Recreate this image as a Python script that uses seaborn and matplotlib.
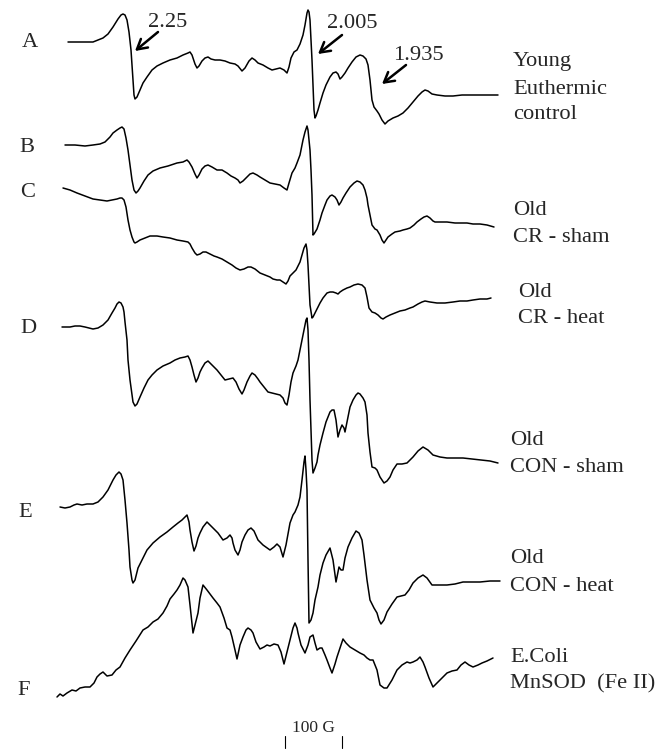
import numpy as np
import pandas as pd
import matplotlib
matplotlib.use("Agg")
import matplotlib.pyplot as plt
import seaborn as sns

# EPR spectra: x = field position, y = signal (screen units, down = larger)
A_x = [68, 80, 93, 103, 108, 113, 118, 121, 123, 125, 127, 129, 131, 133, 134, 135, 137, 140, 143, 147,
       152, 157, 163, 170, 177, 183, 188, 190, 192, 195, 197, 199, 202, 205, 208, 211, 215, 220, 225, 230,
       235, 238, 242, 245, 249, 252, 255, 258, 263, 268, 272, 276, 280, 284, 287, 289, 291, 294, 297, 300,
       303, 305, 307, 308, 309, 310, 311, 312, 313, 314, 315, 316, 318, 320, 323, 326, 330, 333, 336, 338,
       340, 342, 345, 348, 352, 356, 360, 363, 366, 368, 370, 372, 374, 377, 379, 382, 385, 388, 393, 398,
       403, 408, 413, 418, 422, 425, 428, 432, 437, 445, 453, 462, 470, 480, 490, 498]
A_y = [42, 42, 42, 38, 34, 27, 19, 15, 14, 15, 20, 32, 50, 80, 95, 99, 97, 90, 83, 77,
       70, 66, 63, 60, 58, 55, 53, 52, 55, 64, 68, 66, 61, 58, 57, 59, 60, 60, 61, 63,
       64, 66, 71, 68, 61, 58, 60, 63, 65, 68, 70, 69, 68, 70, 73, 67, 58, 52, 50, 44,
       35, 25, 13, 10, 12, 20, 40, 60, 85, 110, 118, 116, 110, 103, 93, 85, 77, 73, 72, 74,
       79, 77, 73, 68, 62, 57, 55, 56, 59, 65, 80, 100, 107, 111, 114, 120, 124, 121, 118, 116,
       113, 108, 102, 96, 92, 90, 91, 94, 95, 96, 96, 95, 95, 95, 95, 95]

B_x = [65, 75, 85, 93, 100, 105, 110, 113, 117, 120, 122, 124, 126, 128, 130, 132, 134, 136, 138, 140,
       144, 148, 153, 160, 168, 177, 183, 187, 189, 192, 195, 197, 199, 202, 205, 208, 212, 217, 222, 227,
       231, 235, 238, 240, 243, 247, 250, 253, 257, 260, 265, 270, 275, 280, 284, 287, 289, 292, 295, 297,
       300, 303, 305, 307, 308, 310, 311, 312, 313, 314, 317, 320, 322, 325, 327, 330, 332, 335, 337, 339,
       341, 343, 346, 350, 354, 357, 360, 363, 365, 367, 368, 370, 372, 375, 377, 380, 382, 384, 386, 388,
       392, 395, 400, 403, 407, 410, 414, 417, 421, 424, 427, 430, 433, 435, 440, 447, 455, 460, 467, 473,
       480, 487, 494]
B_y = [145, 145, 146, 145, 144, 142, 137, 133, 130, 128, 127, 129, 138, 150, 165, 180, 190, 193, 191, 188,
       181, 175, 171, 168, 166, 163, 162, 160, 162, 167, 174, 178, 175, 169, 166, 165, 167, 170, 170, 173,
       176, 178, 180, 183, 181, 177, 174, 173, 175, 177, 180, 183, 184, 185, 188, 190, 183, 173, 168, 163,
       155, 140, 132, 126, 130, 150, 170, 195, 235, 234, 229, 220, 213, 205, 200, 196, 195, 197, 200, 205,
       202, 198, 193, 187, 183, 181, 182, 185, 190, 198, 205, 215, 225, 229, 230, 235, 240, 243, 240, 237,
       234, 232, 231, 230, 229, 228, 225, 222, 219, 217, 216, 218, 221, 222, 222, 222, 223, 223, 223, 224,
       224, 225, 227]

C_x = [63, 70, 77, 85, 93, 100, 107, 112, 117, 120, 122, 124, 126, 128, 130, 132, 134, 135, 137, 140,
       145, 150, 157, 163, 170, 177, 183, 188, 190, 192, 195, 197, 200, 203, 206, 210, 214, 217, 222, 227,
       232, 236, 240, 244, 248, 251, 255, 260, 265, 270, 273, 277, 280, 283, 286, 288, 290, 293, 296, 300,
       302, 304, 306, 307, 308, 309, 310, 312, 313, 315, 318, 320, 323, 327, 330, 333, 336, 338, 340, 343,
       347, 350, 354, 358, 362, 365, 367, 369, 372, 375, 378, 381, 383, 386, 390, 395, 400, 405, 410, 413,
       418, 422, 425, 430, 437, 445, 453, 460, 467, 473, 480, 487, 491]
C_y = [188, 190, 193, 196, 199, 200, 201, 200, 199, 198, 198, 200, 207, 220, 230, 237, 242, 243, 242, 240,
       238, 236, 236, 237, 238, 240, 241, 242, 244, 248, 253, 255, 254, 252, 252, 254, 256, 257, 259, 262,
       265, 268, 270, 269, 267, 267, 269, 273, 275, 277, 279, 280, 280, 282, 284, 281, 276, 273, 270, 262,
       255, 248, 244, 250, 265, 285, 305, 318, 317, 313, 307, 303, 298, 293, 292, 292, 293, 294, 292, 290,
       288, 287, 285, 284, 285, 288, 297, 308, 312, 313, 315, 318, 319, 317, 315, 313, 311, 310, 308, 307,
       304, 302, 301, 302, 303, 303, 302, 301, 301, 300, 299, 299, 298]

D_x = [62, 70, 75, 80, 85, 93, 98, 103, 108, 112, 115, 117, 119, 121, 123, 124, 125, 127, 128, 130,
       132, 133, 135, 137, 140, 144, 148, 152, 157, 163, 170, 175, 180, 185, 188, 190, 192, 194, 196, 198,
       200, 202, 205, 208, 211, 214, 217, 221, 225, 229, 233, 236, 239, 242, 244, 247, 250, 252, 255, 258,
       260, 264, 268, 272, 276, 280, 283, 285, 287, 289, 291, 293, 296, 298, 300, 302, 304, 306, 307, 308,
       309, 310, 311, 312, 313, 315, 317, 318, 320, 323, 326, 330, 332, 334, 336, 338, 340, 342, 344, 345,
       347, 350, 353, 356, 358, 360, 363, 365, 367, 368, 370, 372, 375, 377, 380, 384, 387, 390, 393, 397,
       402, 407, 410, 413, 418, 423, 428, 433, 440, 447, 455, 463, 472, 480, 490, 498]
D_y = [327, 327, 326, 326, 327, 329, 328, 325, 320, 313, 308, 304, 302, 303, 307, 312, 322, 340, 360, 380,
       395, 402, 406, 404, 397, 388, 380, 375, 370, 366, 363, 360, 358, 357, 356, 360, 367, 375, 382, 378,
       372, 368, 363, 361, 364, 367, 370, 375, 380, 379, 378, 382, 389, 394, 390, 382, 376, 373, 375, 379,
       382, 387, 392, 393, 394, 395, 398, 403, 405, 395, 382, 373, 366, 360, 350, 340, 330, 320, 318, 330,
       360, 400, 430, 460, 473, 468, 462, 455, 445, 433, 422, 412, 410, 410, 420, 437, 430, 425, 428, 432,
       422, 407, 400, 395, 393, 394, 398, 402, 415, 433, 452, 467, 468, 470, 477, 483, 481, 477, 470, 464,
       464, 463, 460, 457, 451, 447, 450, 455, 457, 458, 458, 458, 459, 460, 461, 463]

E_x = [60, 65, 70, 74, 77, 82, 87, 93, 98, 103, 108, 113, 116, 119, 121, 123, 125, 127, 129, 130,
       132, 133, 135, 138, 142, 147, 153, 160, 167, 173, 178, 182, 185, 187, 189, 190, 192, 194, 196, 198,
       200, 203, 207, 210, 213, 218, 223, 227, 230, 232, 233, 235, 238, 240, 242, 245, 248, 251, 254, 258,
       263, 270, 274, 277, 280, 283, 286, 290, 293, 295, 298, 300, 302, 304, 305, 306, 307, 308, 309, 311,
       313, 315, 318, 320, 323, 326, 330, 333, 336, 338, 339, 341, 343, 345, 348, 352, 356, 359, 362, 364,
       367, 370, 374, 377, 379, 381, 384, 387, 392, 397, 401, 405, 409, 413, 418, 423, 427, 432, 440, 447,
       455, 463, 472, 480, 490, 500]
E_y = [507, 508, 507, 505, 504, 505, 504, 504, 502, 497, 490, 480, 475, 472, 474, 480, 500, 523, 550, 567,
       580, 583, 580, 568, 560, 550, 543, 537, 532, 527, 523, 520, 517, 515, 522, 530, 542, 551, 546, 538,
       533, 527, 522, 525, 528, 533, 540, 538, 535, 538, 543, 550, 555, 550, 542, 535, 530, 528, 531, 540,
       545, 550, 547, 544, 547, 557, 545, 523, 515, 512, 505, 497, 480, 462, 456, 470, 490, 560, 623, 620,
       613, 600, 587, 575, 563, 555, 548, 560, 582, 572, 567, 570, 570, 558, 547, 538, 531, 533, 540, 555,
       580, 600, 608, 613, 620, 624, 620, 612, 604, 597, 596, 595, 590, 583, 578, 575, 578, 585, 585, 585,
       584, 582, 582, 582, 581, 581]

F_x = [57, 60, 63, 67, 72, 76, 80, 85, 90, 94, 97, 100, 103, 107, 112, 116, 120, 125, 130, 136,
       143, 148, 153, 158, 163, 167, 170, 174, 177, 180, 183, 185, 188, 190, 193, 195, 198, 200, 203, 207,
       210, 213, 217, 220, 224, 227, 230, 232, 235, 237, 240, 243, 246, 248, 251, 253, 256, 260, 264, 267,
       270, 274, 278, 281, 284, 287, 290, 293, 295, 297, 298, 301, 305, 308, 310, 313, 315, 317, 320, 322,
       325, 327, 330, 332, 335, 337, 340, 343, 346, 350, 355, 360, 364, 367, 370, 373, 377, 380, 384, 387,
       392, 397, 402, 407, 410, 413, 417, 420, 423, 425, 429, 433, 437, 440, 444, 447, 452, 457, 461, 465,
       469, 473, 478, 482, 487, 493]
F_y = [697, 694, 696, 693, 690, 691, 688, 687, 687, 683, 677, 674, 672, 676, 675, 670, 667, 658, 650, 641,
       630, 627, 622, 619, 613, 606, 599, 594, 590, 585, 578, 580, 587, 605, 633, 625, 613, 598, 585, 590,
       594, 598, 603, 607, 618, 628, 630, 637, 650, 659, 645, 637, 630, 628, 630, 633, 642, 649, 647, 645,
       646, 644, 645, 652, 664, 652, 640, 628, 623, 628, 633, 645, 653, 645, 637, 635, 643, 650, 648, 648,
       655, 660, 668, 673, 664, 657, 648, 639, 643, 647, 650, 653, 655, 658, 660, 660, 670, 685, 688, 688,
       680, 670, 665, 662, 663, 662, 660, 657, 662, 667, 678, 687, 683, 680, 676, 673, 671, 670, 665, 662,
       665, 667, 665, 663, 661, 658]

letters = ["A", "B", "C", "D", "E", "F"]
right_labels = [["Young", "Euthermic", "control"], ["Old", "CR - sham"], ["Old", "CR - heat"],
                ["Old", "CON - sham"], ["Old", "CON - heat"], ["E.Coli", "MnSOD  (Fe II)"]]
g_values = ["2.25", "2.005", "1.935"]
scale_label = "100 G"

sns.set_style("white")
plt.rcParams["font.family"] = ["Liberation Serif", "DejaVu Serif"]

fig = plt.figure(figsize=(6.67, 7.49), dpi=100)
ax = fig.add_axes([0, 0, 1, 1])

traces = [(A_x, A_y), (B_x, B_y), (C_x, C_y), (D_x, D_y), (E_x, E_y), (F_x, F_y)]
for tx, ty in traces:
    sns.lineplot(x=tx, y=ty, sort=False, estimator=None, color="black", lw=1.1, ax=ax)

ax.set_xlim(0, 667)
ax.set_ylim(749, 0)
ax.axis("off")

fs = 16.2
# letters on the left
letter_pos = [(22, 47), (19, 152), (20, 197), (20, 333), (18, 517), (17, 695)]
for lab, (lx, ly) in zip(letters, letter_pos):
    ax.text(lx, ly, lab, fontsize=fs, va="baseline", ha="left")

# sample names on the right
label_pos = [(513, [66, 94, 119]), (513, [215, 242]), (518, [297, 323]),
             (510, [445, 472]), (510, [563, 591]), (510, [662, 688])]
for lines, (lx, ys) in zip(right_labels, label_pos):
    for txt, ly in zip(lines, ys):
        ax.text(lx, ly, txt, fontsize=fs, va="baseline", ha="left")

# g-value arrows
arrows = [((148, 27), (158, 32), (135, 51)),
          ((327, 28), (342, 35), (318, 54)),
          ((393, 60), (406, 65), (382, 84))]
for val, (tpos, start, end) in zip(g_values, arrows):
    ax.text(tpos[0], tpos[1], val, fontsize=fs, va="baseline", ha="left")
    ax.annotate("", xy=end, xytext=start,
                arrowprops=dict(arrowstyle="->,head_length=0.7,head_width=0.4", lw=1.8,
                                color="black", shrinkA=0, shrinkB=0))

# scale bar
ax.text(313, 732, scale_label, fontsize=12.5, va="baseline", ha="center")
ax.plot([285, 285], [736, 748], color="black", lw=0.8)
ax.plot([342, 342], [736, 748], color="black", lw=0.8)

fig.savefig("out.png", dpi=100)
